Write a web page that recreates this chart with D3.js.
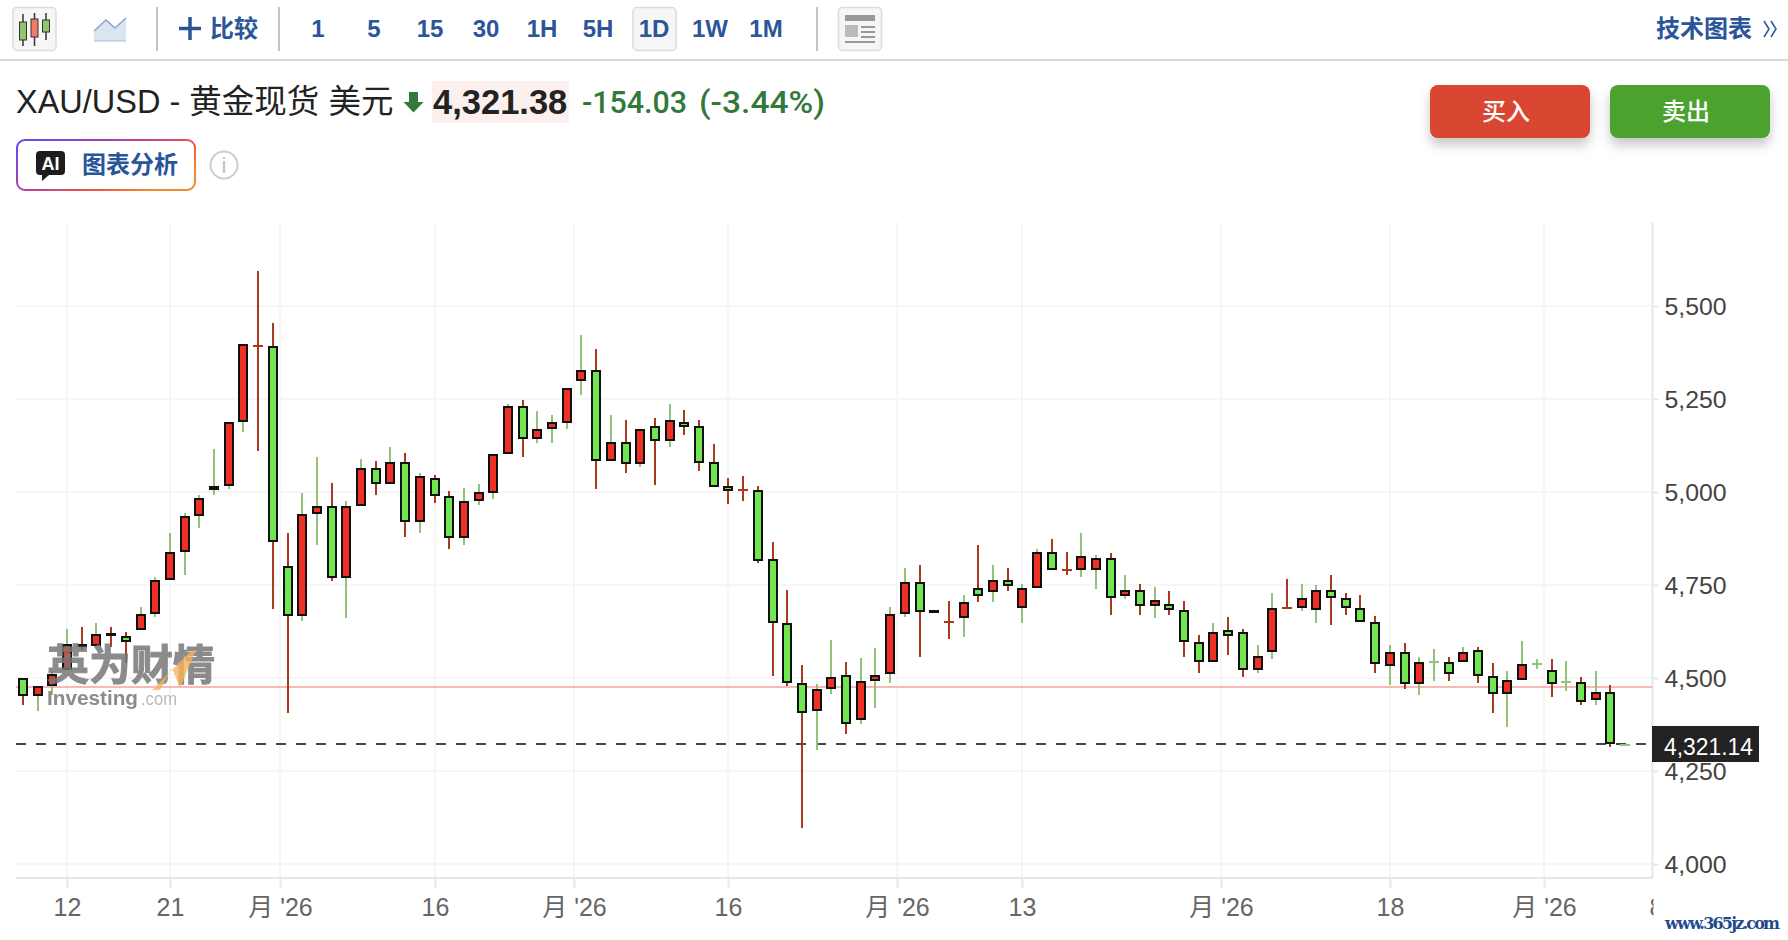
<html>
<head>
    <meta charset="utf-8">
    <style>
        body {margin:0; background:#fff; overflow:hidden}
        text {font-family:"Liberation Sans","Noto Sans CJK SC",sans-serif}
    </style>
    <script src="https://d3js.org/d3.v7.min.js"></script>
</head>
<body>
    <script>
        //Candle values, one entry per session
        var opens = [4497,4454,4481,4524,4590,4589,4617,4610,4632,4675,4766,4841,4938,5008,5019,5191,5392.2,5390,4798,4669,
            4944,4960,4772,4965,5062,5024,5078,4922,5035,4987,4878,4979,5001,5104,5229,5146,5173,5189,5302,5325,
            5087,5131,5077,5175,5141,5185,5175,5077,5013,5004.2,5002,4818,4646,4484,4413,4472,4506,4391,4494,4513,
            4675,4755,4679,4650.8,4664,4739,4734,4761,4691,4745,4836,4790.2,4793,4793,4820,4723,4734,4696,4696,4680,
            4594,4546,4626,4621,4524,4573,4688.2,4691,4685,4734,4712,4685,4648,4535,4567,4487,4544,4540,4546,4573,
            4503,4460,4497,4538,4519,4489,4487,4444,4460,4321];
        var highs = [4497,4476,4518,4631,4636,4647,4636,4625,4690,4771,4889,4943,4991,5115,5185,5395,5593,5453,4889,4996,
            5093,5023,4975,5088,5082,5120,5104,5050,5045,5002,5011,5022,5099,5237,5248,5217,5206,5277,5421,5384,
            5206,5194,5168,5199,5237,5221,5194,5130,5038,5043,5017,4866,4736,4536,4483,4603,4542,4554,4580,4690,
            4797,4803,4679,4706,4722,4857,4803,4797,4754,4846,4873,4840,4889,4830,4835,4776,4754,4744,4733,4706,
            4615,4647,4663,4631,4588,4728,4765,4754,4749,4776,4728,4722,4668,4588,4593,4556,4577,4556,4582,4582,
            4539,4518,4599,4550,4550,4545,4502,4518,4480,4321];
        var lows = [4428,4412,4455,4524,4574,4589,4584,4541,4632,4665,4766,4778,4902,4993,5009,5160,5111,4686,4407,4654,
            4858,4762,4660,4965,4993,5024,4880,4891,4971,4848,4857,4965,4981,5104,5093,5131,5131,5169,5261,5007,
            5087,5051,5067,5019,5121,5152,5056,5017,4969,4975,4808,4506,4479,4097,4307,4458,4350,4377,4420,4487,
            4665,4557,4678,4606,4611,4703,4703,4735,4649,4745,4793,4778,4772,4740,4670,4713,4670,4660,4670,4557,
            4514,4546,4563,4504,4514,4552,4688,4681,4649,4643,4670,4653,4514,4482,4471,4455,4493,4493,4546,4487,
            4407,4369,4497,4525,4450,4466,4428,4428,4315,4321];
        var closes = [4454,4476,4508,4589,4588,4616,4615,4600,4669,4761,4836,4933,4981,5013,5185,5395,5392,4868,4669,4938,
            4960,4772,4960,5062,5024,5078,4922,5040,4992,4879,4974,4996,5099,5229,5146,5168,5185,5277,5325,5087,
            5131,5077,5168,5141,5191,5178,5081,5017,5005,5004,4816,4650,4488,4408,4468,4500,4380,4490,4506,4669,
            4755,4680,4678,4650.6,4702,4723,4761,4750,4739,4836,4793,4790,4825,4820,4718,4734,4696,4707,4685,4599,
            4546,4621,4616,4524,4556,4685,4688,4712,4734,4718,4691,4653,4540,4567,4487,4540,4544.2,4513,4567,4508,
            4460,4492,4535,4538.2,4487,4489.2,4438,4460,4325,4321.2];

        var priceTicks = [4000,4250,4500,4750,5000,5250,5500];
        //Session positions of the date labels; month ticks sit between two sessions
        var dateTicks = [3,10,17.5,28,37.5,48,59.5,68,81.5,93,103.5,111.1];
        var dateLabels = ["12","21","月 '26","16","月 '26","16","月 '26","13","月 '26","18","月 '26","8"];
        var intervals = ["1","5","15","30","1H","5H","1D","1W","1M"];

        var lastPrice = 4321.14;
        var prevClose = 4475.17;

        var svg_width = 1788;
        var svg_height = 940;
        var plot_left = 16;
        var plot_right = 1652.5;
        var plot_top = 222;
        var plot_bottom = 878;

        var blue = "#2a5599";
        var dgreen = "#317a3c";

        var svg = d3.select("body").append("svg")
            .attr("width", svg_width)
            .attr("height", svg_height)
            .style("display", "block");

        var defs = svg.append("defs");
        var grad = defs.append("linearGradient").attr("id", "aiBorder")
            .attr("x1", "0%").attr("y1", "0%").attr("x2", "100%").attr("y2", "60%");
        grad.append("stop").attr("offset", "0%").attr("stop-color", "#5f4bf5");
        grad.append("stop").attr("offset", "45%").attr("stop-color", "#b23fa6");
        grad.append("stop").attr("offset", "75%").attr("stop-color", "#ea5548");
        grad.append("stop").attr("offset", "100%").attr("stop-color", "#f58a2c");
        var blur = defs.append("filter").attr("id", "wmBlur");
        blur.append("feGaussianBlur").attr("stdDeviation", 0.7);
        var shadow = defs.append("filter").attr("id", "btnShadow")
            .attr("x", "-20%").attr("y", "-20%").attr("width", "140%").attr("height", "170%");
        shadow.append("feDropShadow").attr("dx", 0).attr("dy", 7).attr("stdDeviation", 6)
            .attr("flood-opacity", 0.22);
        defs.append("clipPath").attr("id", "axisClip").append("rect")
            .attr("x", 0).attr("y", -8).attr("width", plot_right + 1).attr("height", 60);

        //~~~~~~~~~~~~~~~~~~~~~~~~~~~~~~~~~~~~~~~~~~~~~~~~~~~~~~~~~~~~~~~~~~~
        //Toolbar and header
        //~~~~~~~~~~~~~~~~~~~~~~~~~~~~~~~~~~~~~~~~~~~~~~~~~~~~~~~~~~~~~~~~~~~
        var bar = svg.append("g");

        function toolButton(x, w) {
            bar.append("rect").attr("x", x).attr("y", 7.5).attr("width", w).attr("height", 43)
                .attr("rx", 4).attr("fill", "#f6f6f6").attr("stroke", "#dcdcdc").attr("stroke-width", 1.5);
        }
        toolButton(13, 43);
        toolButton(633, 43);
        toolButton(838.5, 43);

        //candle icon
        [[23, 22, 40, 14, 46, "#8dc66f"], [34.5, 19, 37, 13, 46, "#ef7a6a"], [46, 20, 32, 13, 40, "#8dc66f"]].forEach(function(c) {
            bar.append("line").attr("x1", c[0]).attr("x2", c[0]).attr("y1", c[3]).attr("y2", c[4])
                .attr("stroke", "#333").attr("stroke-width", 1.5);
            bar.append("rect").attr("x", c[0] - 3.5).attr("y", c[1]).attr("width", 7).attr("height", c[2] - c[1])
                .attr("fill", c[5]).attr("stroke", "#333").attr("stroke-width", 1);
        });
        //area icon
        bar.append("path").attr("d", "M94,41 L94,31 L106,20 L115,28 L126,18 L126,41 Z").attr("fill", "#dbe4f1");
        bar.append("path").attr("d", "M94,31 L106,20 L115,28 L126,18").attr("fill", "none").attr("stroke", "#8aa6cc").attr("stroke-width", 1.5);
        bar.append("line").attr("x1", 94).attr("x2", 126).attr("y1", 41).attr("y2", 41).attr("stroke", "#a9bbd6");
        //news icon
        bar.append("rect").attr("x", 845).attr("y", 15).attr("width", 30).attr("height", 6).attr("fill", "#999");
        bar.append("rect").attr("x", 845).attr("y", 25).attr("width", 13).attr("height", 12).attr("fill", "#bbb");
        [26, 31, 36].forEach(function(y) {
            bar.append("rect").attr("x", 861).attr("y", y).attr("width", 14).attr("height", 2).attr("fill", "#999");
        });
        bar.append("rect").attr("x", 845).attr("y", 41).attr("width", 30).attr("height", 2).attr("fill", "#999");

        [157, 279, 817].forEach(function(x) {
            bar.append("line").attr("x1", x).attr("x2", x).attr("y1", 7).attr("y2", 51)
                .attr("stroke", "#c4c4c4").attr("stroke-width", 2);
        });
        bar.append("line").attr("x1", 0).attr("x2", svg_width).attr("y1", 60).attr("y2", 60)
            .attr("stroke", "#d9d9d9").attr("stroke-width", 2);

        bar.append("path").attr("d", "M190,17 V40 M179,28.5 H201").attr("stroke", blue).attr("stroke-width", 3.5);
        bar.append("text").attr("x", 210).attr("y", 37).attr("fill", blue)
            .style("font-size", "24px").style("font-weight", "bold").text("比较");

        bar.selectAll("text.interval").data(intervals).join("text")
            .attr("class", "interval")
            .attr("x", (d, i) => 318 + i * 56)
            .attr("y", 37)
            .attr("text-anchor", "middle")
            .attr("fill", blue)
            .style("font-size", "24px").style("font-weight", "bold")
            .text(d => d);

        bar.append("text").attr("x", 1656).attr("y", 37).attr("fill", blue)
            .style("font-size", "24px").style("font-weight", "bold").text("技术图表");
        bar.append("path").attr("d", "M1764,21 L1769,29 L1764,37 M1771,21 L1776,29 L1771,37")
            .attr("fill", "none").attr("stroke", blue).attr("stroke-width", 1.5);

        var head = svg.append("g");
        head.append("text").attr("x", 16).attr("y", 113).attr("fill", "#222")
            .style("font-size", "32.5px").text("XAU/USD - 黄金现货 美元");
        head.append("path").attr("d", "M409,92 H418 V102 H423.5 L413.5,112.5 L403.5,102 H409 Z").attr("fill", dgreen);
        head.append("rect").attr("x", 432).attr("y", 81).attr("width", 137).attr("height", 42).attr("fill", "#fbf0ee");
        head.append("text").attr("x", 433).attr("y", 114).attr("fill", "#222")
            .style("font-size", "34.5px").style("font-weight", "bold").text("4,321.38");
        head.append("text").attr("x", 582).attr("y", 113).attr("fill", dgreen)
            .style("font-family", "Roboto").style("font-size", "31px").style("font-weight", 500)
            .attr("textLength", 105).attr("lengthAdjust", "spacingAndGlyphs").text("-154.03");
        head.append("text").attr("x", 699).attr("y", 113).attr("fill", dgreen)
            .style("font-family", "Roboto").style("font-size", "31px").style("font-weight", 500)
            .attr("textLength", 126).attr("lengthAdjust", "spacingAndGlyphs").text("(-3.44%)");

        head.append("rect").attr("x", 17).attr("y", 140).attr("width", 178).attr("height", 50).attr("rx", 8)
            .attr("fill", "#fff").attr("stroke", "url(#aiBorder)").attr("stroke-width", 2);
        head.append("path").attr("d", "M40,151 H61 Q65,151 65,155 V171 Q65,175 61,175 H49 L42,181 V175 H40 Q36,175 36,171 V155 Q36,151 40,151 Z")
            .attr("fill", "#1d1d1d");
        head.append("text").attr("x", 50.5).attr("y", 170).attr("text-anchor", "middle").attr("fill", "#fff")
            .style("font-size", "18px").style("font-weight", "bold").text("AI");
        head.append("text").attr("x", 82).attr("y", 173).attr("fill", blue)
            .style("font-size", "24px").style("font-weight", "bold").text("图表分析");
        head.append("circle").attr("cx", 224).attr("cy", 165).attr("r", 13.5)
            .attr("fill", "none").attr("stroke", "#cdcdcd").attr("stroke-width", 2);
        head.append("text").attr("x", 224).attr("y", 173).attr("text-anchor", "middle").attr("fill", "#c0c0c0")
            .style("font-size", "22px").text("i");

        head.append("rect").attr("x", 1430).attr("y", 85).attr("width", 160).attr("height", 53).attr("rx", 8)
            .attr("fill", "#d94632").style("filter", "url(#btnShadow)");
        head.append("rect").attr("x", 1610).attr("y", 85).attr("width", 160).attr("height", 53).attr("rx", 8)
            .attr("fill", "#4ca22f").style("filter", "url(#btnShadow)");
        head.append("text").attr("x", 1506).attr("y", 120).attr("text-anchor", "middle").attr("fill", "#fff")
            .style("font-size", "24px").style("font-weight", 500).text("买入");
        head.append("text").attr("x", 1686).attr("y", 120).attr("text-anchor", "middle").attr("fill", "#fff")
            .style("font-size", "24px").style("font-weight", 500).text("卖出");

        //~~~~~~~~~~~~~~~~~~~~~~~~~~~~~~~~~~~~~~~~~~~~~~~~~~~~~~~~~~~~~~~~~~~
        //Scales, grid and axes
        //~~~~~~~~~~~~~~~~~~~~~~~~~~~~~~~~~~~~~~~~~~~~~~~~~~~~~~~~~~~~~~~~~~~
        var x = d3.scaleLinear().domain([0, 109]).rangeRound([23, 1625]);
        var y = d3.scaleLinear().domain([4000, 5500]).rangeRound([864, 306]);

        var grid = svg.append("g").attr("stroke", "#f6f6f6").attr("stroke-width", 2);
        grid.selectAll("line.h").data(priceTicks).join("line")
            .attr("class", "h")
            .attr("x1", plot_left).attr("x2", plot_right)
            .attr("y1", d => y(d)).attr("y2", d => y(d));
        grid.selectAll("line.v").data(dateTicks.slice(0, -1)).join("line")
            .attr("class", "v")
            .attr("x1", d => x(d)).attr("x2", d => x(d))
            .attr("y1", plot_top).attr("y2", plot_bottom);

        var yAxis = svg.append("g")
            .attr("transform", `translate(${plot_right},0)`)
            .call(d3.axisRight(y).tickValues(priceTicks).tickSize(6).tickPadding(6).tickFormat(d3.format(",")));
        yAxis.select(".domain").remove();
        yAxis.selectAll("line").attr("stroke", "#e3e7ee").attr("stroke-width", 2);
        yAxis.selectAll("text").attr("fill", "#444").attr("dy", "0.34em").style("font-size", "24.8px");

        var xAxis = svg.append("g")
            .attr("transform", `translate(0,${plot_bottom})`)
            .attr("clip-path", "url(#axisClip)")
            .call(d3.axisBottom(x).tickValues(dateTicks).tickSize(10).tickPadding(10)
                .tickFormat((d, i) => dateLabels[i]));
        xAxis.select(".domain").remove();
        xAxis.selectAll("line").attr("stroke", "#e3e7ee").attr("stroke-width", 2);
        xAxis.selectAll("text").attr("fill", "#666").style("font-size", "25px");

        svg.append("line").attr("x1", plot_left).attr("x2", plot_right).attr("y1", plot_bottom).attr("y2", plot_bottom)
            .attr("stroke", "#e3e7ee").attr("stroke-width", 2);
        svg.append("line").attr("x1", plot_right).attr("x2", plot_right).attr("y1", plot_top).attr("y2", plot_bottom)
            .attr("stroke", "#e3e7ee").attr("stroke-width", 2);

        svg.append("line").attr("x1", plot_left).attr("x2", plot_right)
            .attr("y1", y(prevClose)).attr("y2", y(prevClose))
            .attr("stroke", "#f7b9b4").attr("stroke-width", 2);

        svg.append("line").attr("x1", plot_left).attr("x2", 1648)
            .attr("y1", y(lastPrice) - 1).attr("y2", y(lastPrice) - 1)
            .attr("stroke", "#444").attr("stroke-width", 2).attr("stroke-dasharray", "10 10");

        //~~~~~~~~~~~~~~~~~~~~~~~~~~~~~~~~~~~~~~~~~~~~~~~~~~~~~~~~~~~~~~~~~~~
        //Candles. The wick takes the opposite colour of the body
        //~~~~~~~~~~~~~~~~~~~~~~~~~~~~~~~~~~~~~~~~~~~~~~~~~~~~~~~~~~~~~~~~~~~
        var candles = d3.range(opens.length).map(i => ({i: i, o: opens[i], h: highs[i], l: lows[i], c: closes[i]}));
        var isFlat = d => Math.abs(d.c - d.o) < 0.5;
        var wickColor = d => d.c > d.o ? "#93c27a" : "#a93a20";

        var candle = svg.append("g").selectAll("g").data(candles).join("g");

        candle.append("line")
            .attr("x1", d => x(d.i)).attr("x2", d => x(d.i))
            .attr("y1", d => y(d.h)).attr("y2", d => y(d.l))
            .attr("stroke", wickColor).attr("stroke-width", 2);

        candle.filter(isFlat).append("line")
            .attr("x1", d => x(d.i) - 5).attr("x2", d => x(d.i) + 5)
            .attr("y1", d => y(d.o)).attr("y2", d => y(d.o))
            .attr("stroke", wickColor).attr("stroke-width", 2);

        //tiny bodies still get one pixel so they read as a black bar
        candle.filter(d => !isFlat(d)).append("rect")
            .attr("x", d => x(d.i) - 4).attr("width", 8)
            .attr("y", d => y(Math.max(d.o, d.c)))
            .attr("height", d => Math.max(1, Math.abs(y(d.o) - y(d.c))))
            .attr("fill", d => d.c > d.o ? "#ee3124" : "#72e650")
            .attr("stroke", "#111").attr("stroke-width", 2);

        //~~~~~~~~~~~~~~~~~~~~~~~~~~~~~~~~~~~~~~~~~~~~~~~~~~~~~~~~~~~~~~~~~~~
        //Price tag and watermarks
        //~~~~~~~~~~~~~~~~~~~~~~~~~~~~~~~~~~~~~~~~~~~~~~~~~~~~~~~~~~~~~~~~~~~
        svg.append("rect").attr("x", 1652).attr("y", 726).attr("width", 107).attr("height", 36).attr("fill", "#222");
        svg.append("text").attr("x", 1664).attr("y", 755).attr("fill", "#fff")
            .style("font-size", "24.8px").attr("textLength", 89).attr("lengthAdjust", "spacingAndGlyphs")
            .text(d3.format(",.2f")(lastPrice));

        var wm = svg.append("g").style("filter", "url(#wmBlur)");
        wm.append("text").attr("x", 47).attr("y", 680).attr("fill", "#777").attr("stroke", "#777").attr("stroke-width", 1)
            .attr("opacity", 0.85)
            .style("font-size", "42px").style("font-weight", "bold").text("英为财情");
        wm.append("path").attr("d", "M152,690 L190,652 L196,650 L180,688 L172,668 L160,690 Z")
            .attr("fill", "#f6b45e").attr("opacity", 0.8);
        wm.append("text").attr("x", 47).attr("y", 705).attr("fill", "#777").attr("opacity", 0.85)
            .style("font-size", "21px").style("font-weight", "bold")
            .attr("textLength", 91).attr("lengthAdjust", "spacingAndGlyphs").text("Investing");
        wm.append("text").attr("x", 141).attr("y", 705).attr("fill", "#bbb")
            .style("font-size", "19px").attr("textLength", 36).attr("lengthAdjust", "spacingAndGlyphs").text(".com");

        svg.append("text").attr("x", 1665).attr("y", 929).attr("fill", "#1f4a8c")
            .style("font-family", "'DejaVu Serif'").style("font-size", "16px").style("font-weight", "bold")
            .attr("textLength", 115).text("www.365jz.com");
    </script>
</body>
</html>
